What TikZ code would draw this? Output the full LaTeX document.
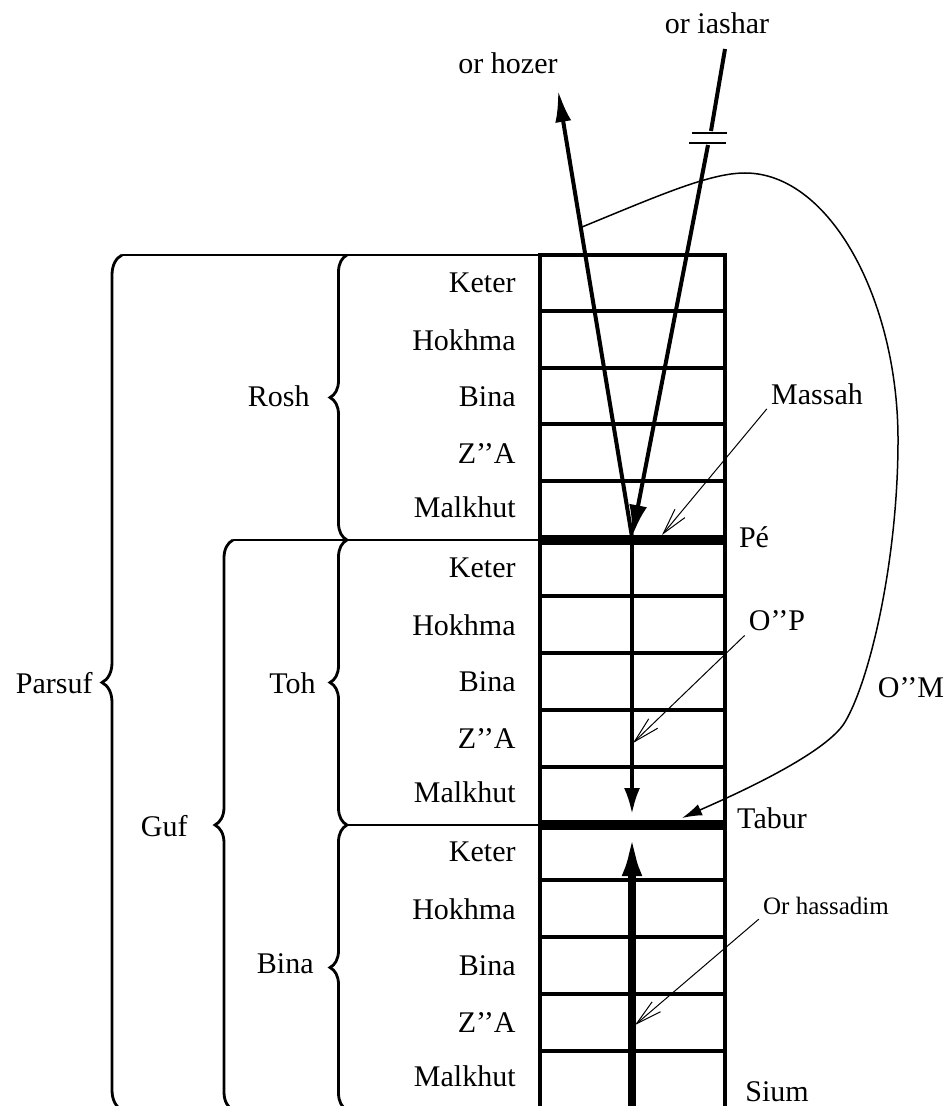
\documentclass[tikz,border=0pt]{standalone}
\usepackage{fontspec}
\setmainfont{Liberation Serif}
\usepackage{tikz}
\usetikzlibrary{arrows.meta, decorations.pathreplacing, positioning}

\tikzset{
  sefira/.style={anchor=east, inner sep=2pt, font=\fontsize{15}{17}\selectfont},
  tag/.style={inner sep=2pt, font=\fontsize{15}{17}\selectfont},
  smalltag/.style={inner sep=2pt, font=\fontsize{12.5}{14}\selectfont},
  cell/.style={line width=2.2pt},
  masach/.style={line width=5pt},
  ray/.style={line width=2pt},
  brc/.style={decorate, decoration={brace, amplitude=#1}, line width=1.4pt},
  leader/.style={line width=0.5pt, -{Straight Barb[length=13pt,width=6.5pt]}},
}

\begin{document}
\begin{tikzpicture}[x=0.5pt, y=-0.5pt]
    \useasboundingbox (0,0) rectangle (945,1106);
    \clip (0,0) rectangle (945,1106);

    % Column
    \draw[line width=2pt] (540,1115) -- (540,255) -- (725,255) -- (725,1115);
    \foreach \y in {311,368,424,481,596,653,710,767,880,937,994,1051,1108}
        \draw[cell] (540,\y) -- (725,\y);
    \draw[masach] (540,540) -- (725,540);
    \draw[masach] (540,825) -- (725,825);

    % Points
    \coordinate (pe) at (632,537);
    \coordinate (hozer) at (558,90);
    \coordinate (iashar) at (725,49);
    \coordinate (iasharA) at (711,131);
    \coordinate (iasharB) at (708,145);
    \coordinate (omstart) at (582,227);
    \coordinate (omend) at (682,818);
    \coordinate (taburtop) at (632,814);
    \coordinate (taburbot) at (632,832);
    \coordinate (sium) at (632,1115);

    % Or iashar and or hozer
    \draw[ray] (iashar) -- (iasharA);
    \draw[line width=0.8pt] (692,133) -- (727,133);
    \draw[line width=0.8pt] (689,143) -- (726,143);
    \draw[ray, -{Latex[length=16pt,width=9pt]}] (iasharB) -- (pe);
    \draw[ray, -{Latex[length=16pt,width=8pt]}] (pe) -- (hozer);

    % O''P and or hassadim
    \draw[line width=1.8pt, -{Latex[length=13pt,width=8pt]}] (pe) -- (taburtop);
    \draw[line width=4pt, -{Latex[length=22pt,width=10pt]}] (sium) -- (taburbot);

    % O''M
    \draw[line width=0.75pt, -{Latex[length=10pt,width=6pt]}] (omstart)
        .. controls (660,195) and (710,173) .. (745,173)
        .. controls (830,173) and (898,300) .. (898,440)
        .. controls (898,560) and (870,680) .. (845,722)
        .. controls (825,756) and (720,801) .. (omend);

    % Braces
    \draw[line width=0.8pt] (122,255) -- (540,255);
    \draw[line width=0.8pt] (233,540) -- (540,540);
    \draw[line width=0.8pt] (347,825) -- (540,825);
    \draw[brc=8.5pt] (347,540) -- (347,255);
    \draw[brc=8.5pt] (347,825) -- (347,540);
    \draw[brc=8.5pt] (347,1110) -- (347,825);
    \draw[brc=9pt] (233,1110) -- (233,540);
    \draw[brc=10pt] (122,1110) -- (122,255);

    % Sefirot
    \foreach \s in {283,568,852}
        \foreach \d/\name in {0/Keter,57/Hokhma,114/Bina,171/Z'{}'A,224/Malkhut}
            \node[sefira] (s\s-\d) at (520,\s+\d) {\name};

    % Labels
    \node[sefira] (rosh) at (314,396) {Rosh};
    \node[sefira] (toh) at (320,683) {Toh};
    \node[sefira] (bina) at (318,964) {Bina};
    \node[sefira] (guf) at (192,826) {Guf};
    \node[sefira] (parsuf) at (97,683) {Parsuf};

    \node[tag] (orhozer) at (508,63) {or hozer};
    \node[tag] (oriashar) at (717,23) {or iashar};
    \node[tag] (massah) at (817,394) {Massah};
    \node[tag] (pelbl) at (754,537) {Pé};
    \node[tag] (op) at (777,621) {O'{}'P};
    \node[tag] (om) at (911,688) {O'{}'M};
    \node[tag] (tabur) at (772,818) {Tabur};
    \node[smalltag] (hassadim) at (826,906) {Or hassadim};
    \node[tag] (siumlbl) at (777,1092) {Sium};

    % Leaders
    \coordinate (masend) at (662,535);
    \coordinate (opend) at (633,743);
    \coordinate (hasend) at (635,1025);
    \draw[leader] (massah.south west) -- (masend);
    \draw[leader] (op.south west) -- (opend);
    \draw[leader] (hassadim.south west) -- (hasend);
\end{tikzpicture}
\end{document}
